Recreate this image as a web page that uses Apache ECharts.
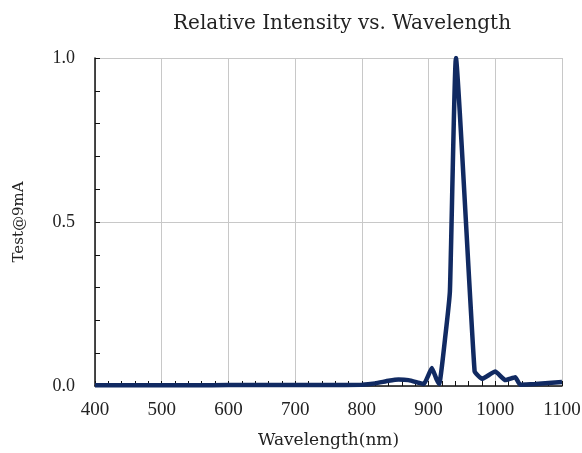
<!DOCTYPE html>
<html>
<head>
<meta charset="utf-8">
<script src="https://cdn.jsdelivr.net/npm/echarts@6/dist/echarts.min.js"></script>
<style>html,body{margin:0;padding:0;background:#fff}#c{width:582px;height:453px}</style>
</head>
<body>
<div id="c"></div>
<script>
const titleText = "Relative Intensity vs. Wavelength";
const xName = "Wavelength(nm)";
const yName = "Test@9mA";
const wavelengths = [400,450,500,550,600,650,700,750,800,820,840,855,870,885,893,905,912,916,925,932,941,969,980,1000,1015,1030,1037,1060,1100];
const intensity =   [0.002,0.002,0.002,0.002,0.003,0.003,0.003,0.003,0.004,0.008,0.016,0.02,0.018,0.01,0.006,0.055,0.02,0.006,0.15,0.29,1.0,0.045,0.022,0.044,0.018,0.027,0.004,0.006,0.012];

const chart = echarts.init(document.getElementById('c'));
const serif = '"Liberation Serif", serif';
const wide = '"DejaVu Serif", serif';
chart.setOption({
  animation: false,
  backgroundColor: '#fff',
  title: { text: titleText, left: 337, top: 9, textAlign: 'center',
    textStyle: { fontFamily: wide, fontSize: 20, fontWeight: 'normal', color: '#222' } },
  grid: { left: 95, right: 20, top: 58, bottom: 67, containLabel: false, outerBoundsMode: 'none' },
  xAxis: {
    type: 'value', min: 400, max: 1100, interval: 100,
    name: xName, nameLocation: 'middle', nameGap: 46,
    nameTextStyle: { fontFamily: wide, fontSize: 17, color: '#222' },
    axisLine: { show: true, lineStyle: { color: '#111', width: 1.5 } },
    axisTick: { show: true, inside: true, length: 5, lineStyle: { color: '#111' } },
    minorTick: { show: true, splitNumber: 5, length: 5, lineStyle: { color: '#111' } },
    axisLabel: { fontFamily: serif, fontSize: 19, color: '#222', margin: 15, hideOverlap: false, formatter: v => String(v) },
    splitLine: { show: true, lineStyle: { color: '#c8c8c8', width: 1 } }
  },
  yAxis: {
    type: 'value', min: 0, max: 1, interval: 0.5,
    name: yName, nameLocation: 'middle', nameGap: 68, nameRotate: 90,
    nameTextStyle: { fontFamily: wide, fontSize: 15, color: '#222' },
    axisLine: { show: true, lineStyle: { color: '#111', width: 1.5 } },
    axisTick: { show: true, inside: true, length: 5, lineStyle: { color: '#111' } },
    minorTick: { show: true, splitNumber: 5, length: 5, lineStyle: { color: '#111' } },
    axisLabel: { fontFamily: serif, fontSize: 18, color: '#222', margin: 20, verticalAlign: 'middle', padding: [6,0,0,0], formatter: v => v.toFixed(1) },
    splitLine: { show: true, lineStyle: { color: '#c8c8c8', width: 1 } }
  },
  series: [{
    type: 'line',
    data: wavelengths.map((w, i) => [w, intensity[i]]),
    showSymbol: false,
    smooth: 0.12,
    lineStyle: { color: '#112a62', width: 4.5 },
    z: 5
  }]
});
</script>
</body>
</html>
